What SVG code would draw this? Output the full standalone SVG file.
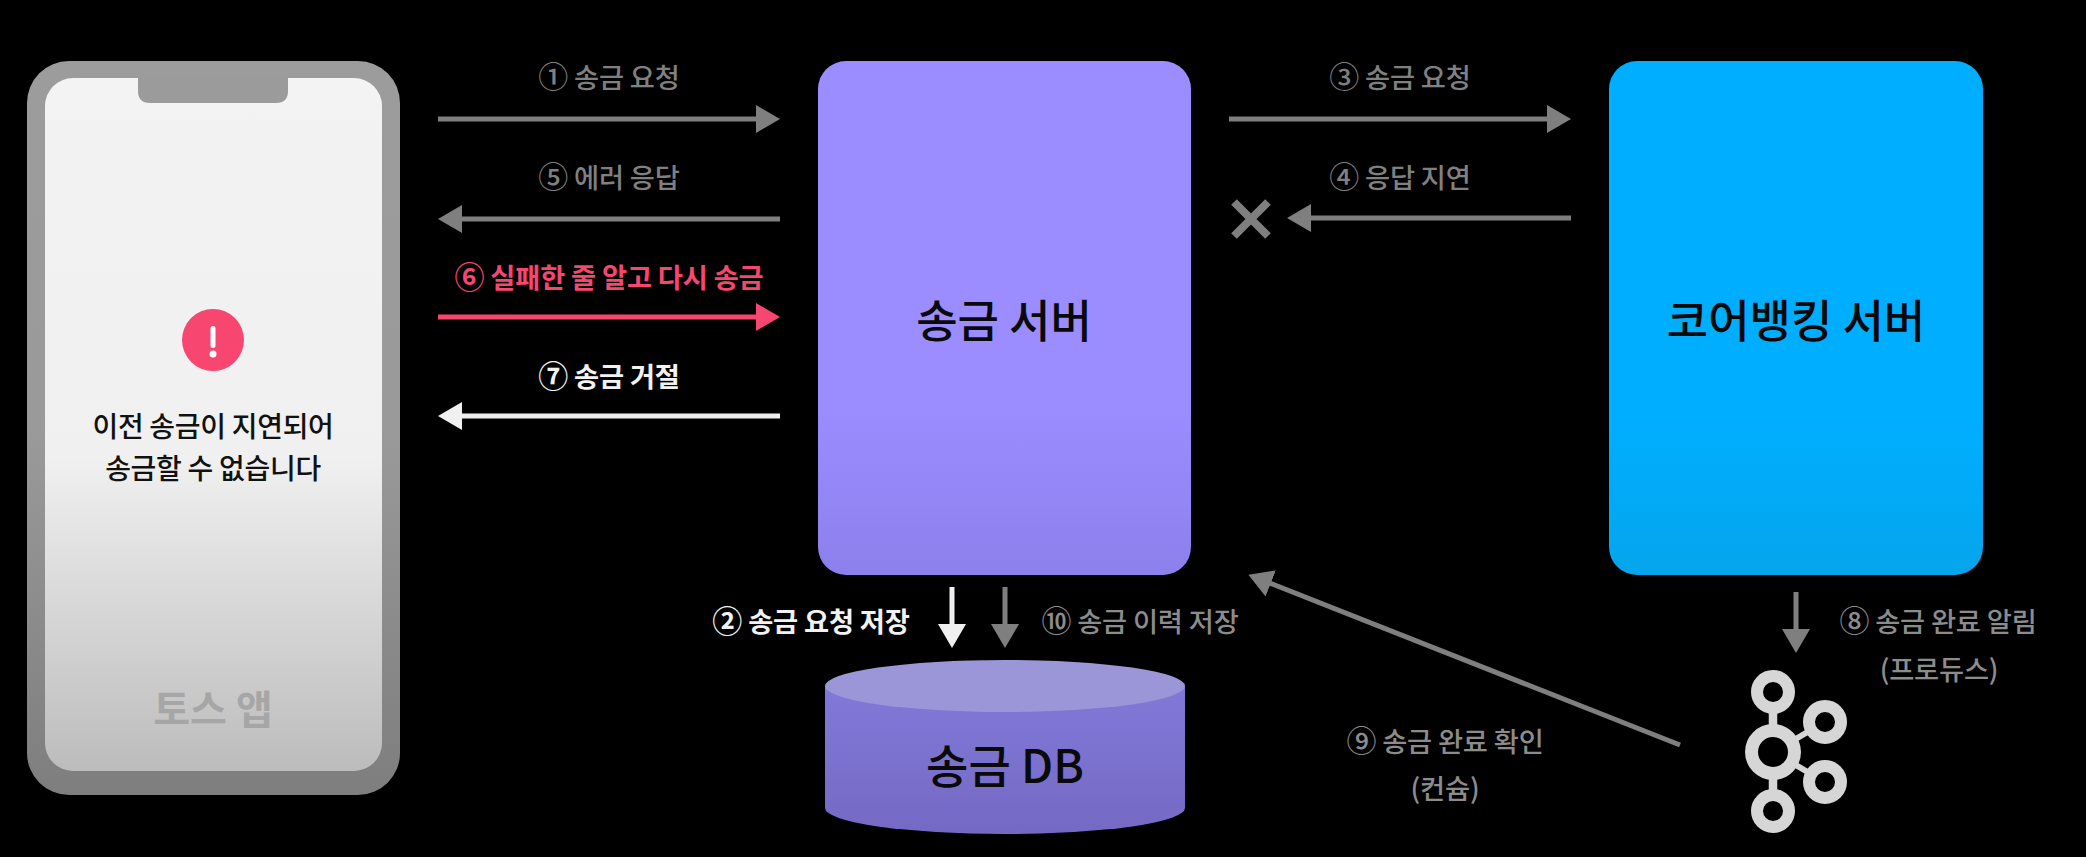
<svg xmlns="http://www.w3.org/2000/svg" width="2086" height="857" viewBox="0 0 2086 857">
<style>
text{font-family:"Noto Sans CJK KR","Noto Sans",sans-serif;text-anchor:middle}
.l{font-size:27.300px;font-weight:500;letter-spacing:-.2px}
.n{font-size:30px}
.g{fill:#808080}.w{fill:#f2f2f2;font-weight:700}.p{fill:#f7466f;font-weight:700}.lg{fill:#8c8c8c}
.t{font-size:45px;font-weight:500;fill:#0a0a0a}
.a{fill:none;stroke-width:5}
.ag{stroke:#7f7f7f}.aw{stroke:#f0f0f0}.ap{stroke:#f7466f}
.k circle{fill:none;stroke:#d6d6d6}
</style>
<defs>
<linearGradient id="bez" x1="0" y1="0" x2="0" y2="1"><stop offset="0" stop-color="#9c9c9c"/><stop offset=".5" stop-color="#9a9a9a"/><stop offset="1" stop-color="#7e7e7e"/></linearGradient>
<linearGradient id="scr" x1="0" y1="0" x2="0" y2="1"><stop offset="0" stop-color="#f3f3f3"/><stop offset=".55" stop-color="#f0f0f0"/><stop offset="1" stop-color="#bcbcbc"/></linearGradient>
<linearGradient id="srv" x1="0" y1="0" x2="0" y2="1"><stop offset="0" stop-color="#9b8cff"/><stop offset=".68" stop-color="#9b8cff"/><stop offset="1" stop-color="#8c80ec"/></linearGradient>
<linearGradient id="core" x1="0" y1="0" x2="0" y2="1"><stop offset="0" stop-color="#00aeff"/><stop offset=".7" stop-color="#00aeff"/><stop offset="1" stop-color="#05a5ec"/></linearGradient>
<linearGradient id="dbb" x1="0" y1="0" x2="0" y2="1"><stop offset="0" stop-color="#8278d8"/><stop offset="1" stop-color="#746ac4"/></linearGradient>
<marker id="mg" markerUnits="userSpaceOnUse" markerWidth="24" markerHeight="28" refX="4" refY="14" orient="auto"><path d="M0 0L24 14L0 28Z" fill="#7f7f7f"/></marker>
<marker id="mw" markerUnits="userSpaceOnUse" markerWidth="24" markerHeight="28" refX="4" refY="14" orient="auto"><path d="M0 0L24 14L0 28Z" fill="#f0f0f0"/></marker>
<marker id="mp" markerUnits="userSpaceOnUse" markerWidth="24" markerHeight="28" refX="4" refY="14" orient="auto"><path d="M0 0L24 14L0 28Z" fill="#f7466f"/></marker>
</defs>
<rect width="2086" height="857" fill="#000"/>
<g id="phone">
<rect x="27" y="61" width="373" height="734" rx="42" fill="url(#bez)"/>
<rect x="45" y="78" width="337" height="693" rx="28" fill="url(#scr)"/>
<path d="M138 78H288V91Q288 103 276 103H150Q138 103 138 91Z" fill="#9b9b9b"/>
<circle cx="213" cy="340" r="31" fill="#f7466f"/>
<rect x="210.500" y="326" width="5" height="22" rx="2.500" fill="#fff"/>
<circle cx="213" cy="354" r="3.500" fill="#fff"/>
<text x="213" y="437" style="font-size:28px;font-weight:500;fill:#111;letter-spacing:-.3px">이전 송금이 지연되어</text>
<text x="213" y="479" style="font-size:28px;font-weight:500;fill:#111;letter-spacing:-.3px">송금할 수 없습니다</text>
<text x="213" y="724" style="font-size:40px;font-weight:700;fill:#a6a6a6">토스 앱</text>
</g>
<g id="transfer-server">
<rect x="818" y="61" width="373" height="514" rx="28" fill="url(#srv)"/>
<text class="t" x="1004" y="338">송금 서버</text>
</g>
<g id="core-banking-server">
<rect x="1609" y="61" width="374" height="514" rx="28" fill="url(#core)"/>
<text class="t" x="1796" y="338">코어뱅킹 서버</text>
</g>
<g id="transfer-db">
<path d="M825 686V808A180 26 0 0 0 1185 808V686Z" fill="url(#dbb)"/>
<ellipse cx="1005" cy="686" rx="180" ry="26" fill="#9b96d8"/>
<text class="t" x="1005" y="783" style="font-size:46px">송금 DB</text>
</g>
<g id="kafka" class="k">
<path d="M1773 705V733M1773 771V798" stroke="#d6d6d6" stroke-width="8.500" fill="none"/>
<path d="M1794 740L1811 730M1794 764L1811 774" stroke="#d6d6d6" stroke-width="6" fill="none"/>
<circle cx="1773" cy="752" r="21.500" stroke-width="13"/>
<circle cx="1773" cy="692" r="16" stroke-width="12"/>
<circle cx="1825" cy="722" r="16" stroke-width="12"/>
<circle cx="1825" cy="782" r="16" stroke-width="12"/>
<circle cx="1773" cy="811" r="16" stroke-width="12"/>
</g>
<g id="connectors">
<line class="a ag" x1="438" y1="119" x2="760" y2="119" marker-end="url(#mg)"/>
<line class="a ag" x1="780" y1="219" x2="458" y2="219" marker-end="url(#mg)"/>
<line class="a ap" x1="438" y1="317" x2="760" y2="317" marker-end="url(#mp)"/>
<line class="a aw" x1="780" y1="416" x2="458" y2="416" marker-end="url(#mw)"/>
<line class="a ag" x1="1229" y1="119" x2="1551" y2="119" marker-end="url(#mg)"/>
<line class="a ag" x1="1571" y1="218" x2="1307" y2="218" marker-end="url(#mg)"/>
<path d="M1234 202L1268 236M1268 202L1234 236" stroke="#7f7f7f" stroke-width="8" fill="none"/>
<line class="a aw" x1="952" y1="587" x2="952" y2="628" marker-end="url(#mw)"/>
<line class="a ag" x1="1005" y1="587" x2="1005" y2="628" marker-end="url(#mg)"/>
<line class="a ag" x1="1796" y1="592" x2="1796" y2="633" marker-end="url(#mg)"/>
<line class="a ag" x1="1680" y1="745" x2="1267" y2="582" marker-end="url(#mg)"/>
</g>
<g id="labels">
<text class="l g" x="609" y="88"><tspan class="n">①</tspan> 송금 요청</text>
<text class="l g" x="609" y="188"><tspan class="n">⑤</tspan> 에러 응답</text>
<text class="l p" x="609" y="288"><tspan class="n">⑥</tspan> 실패한 줄 알고 다시 송금</text>
<text class="l w" x="609" y="387"><tspan class="n">⑦</tspan> 송금 거절</text>
<text class="l g" x="1400" y="88"><tspan class="n">③</tspan> 송금 요청</text>
<text class="l g" x="1400" y="188"><tspan class="n">④</tspan> 응답 지연</text>
<text class="l w" x="811" y="632"><tspan class="n">②</tspan> 송금 요청 저장</text>
<text class="l lg" x="1140" y="632"><tspan class="n">⑩</tspan> 송금 이력 저장</text>
<text class="l lg" x="1938" y="632"><tspan class="n">⑧</tspan> 송금 완료 알림</text>
<text class="l lg" x="1939" y="680">(프로듀스)</text>
<text class="l lg" x="1445" y="752"><tspan class="n">⑨</tspan> 송금 완료 확인</text>
<text class="l lg" x="1445" y="799">(컨슘)</text>
</g>
</svg>
